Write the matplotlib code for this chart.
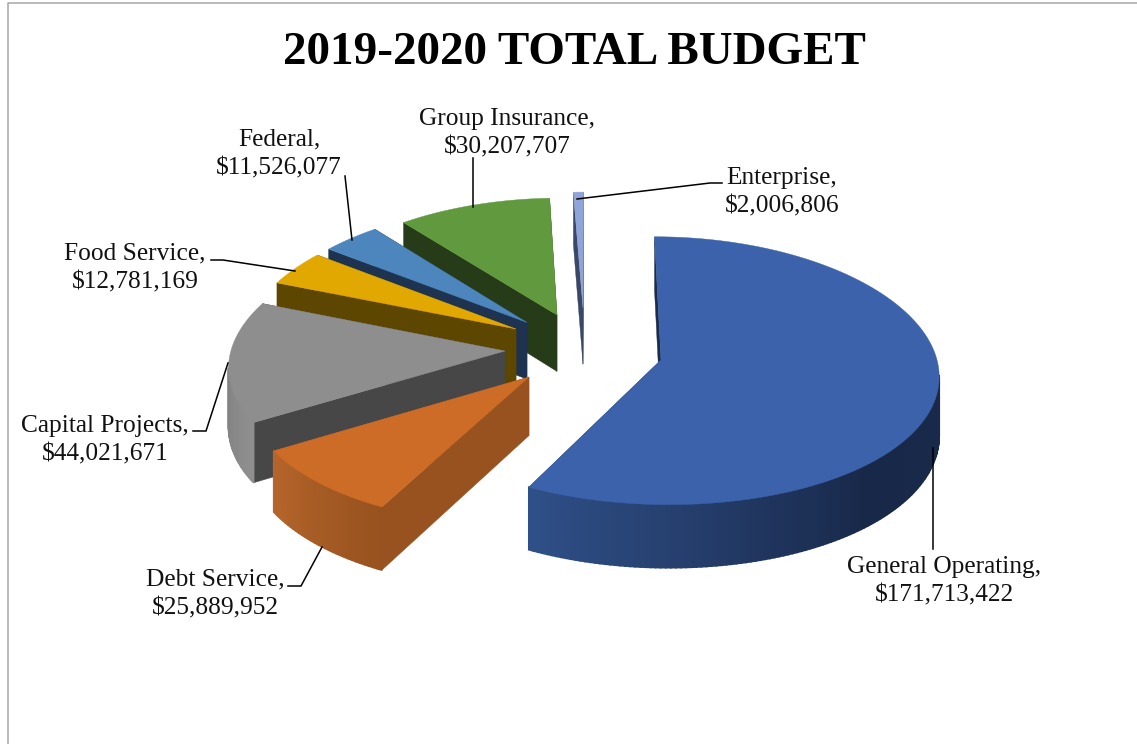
import numpy as np
import matplotlib
matplotlib.use('Agg')
import matplotlib.pyplot as plt
from matplotlib.colors import LinearSegmentedColormap

# budget data, clockwise from 12 o'clock
names = ['General Operating', 'Debt Service', 'Capital Projects', 'Food Service',
         'Federal', 'Group Insurance', 'Enterprise']
values = [171713422, 25889952, 44021671, 12781169, 11526077, 30207707, 2006806]

# styles per slice
top_colors = ['#3b62aa', '#cc6c27', '#8e8e8e', '#e0a800', '#4d86bc', '#619a3e', '#8fa4d8']
wall_colors = ['#1a2b4b', '#97521f', '#474747', '#5c4600', '#1d334f', '#263b18', '#3b4766']
rim_ramps = [['#1a2b4b', '#1a2b4b', '#182848', '#2f4f88'],
             ['#97521f', '#b5652a'],
             ['#8f8f8f', '#747474'],
             ['#5c4600', '#8a6a00'],
             ['#1d334f', '#2a4a70'],
             ['#263b18', '#3a5a24'],
             ['#3b4766', '#3b4766']]
# where each exploded slice has its tip, in pixels
tips_x = [661, 529, 505, 516, 527, 557, 583]
tips_y = [360, 377, 351, 329, 322.5, 315, 308]
draw_order = [6, 5, 4, 3, 2, 1, 0]

# labels
label_x = [944, 215, 105, 135, 279, 507, 782]
label_y = [581, 594, 440, 268, 154, 133, 192]
leaders = [[(933, 448), (933, 549)],
           [(322, 547), (301, 586), (288, 586)],
           [(228, 363), (206, 431), (193, 431)],
           [(295, 271), (223, 260), (211, 260)],
           [(352, 240), (345, 176)],
           [(473, 207), (473, 158)],
           [(577, 199), (710, 183), (722, 183)]]

# camera
XC, YC = 590, 360
RADIUS = 279
RADIUS_X = 276
TILT = 0.477
PERSP_X = 0.10
PERSP_Y = 0.08
DEPTH = 58


def project(x, y, h=0):
    wx = 1 + PERSP_X * y / RADIUS
    wy = 1 + PERSP_Y * y / RADIUS
    return XC + x / wx, YC - TILT * y / wy + h / wy


def unproject(sx, sy):
    q = (YC - sy) / TILT
    y = q / (1 - PERSP_Y * q / RADIUS)
    return (sx - XC) * (1 + PERSP_X * y / RADIUS), y


fig = plt.figure(figsize=(11.37, 7.44), dpi=100)
ax = fig.add_axes([0, 0, 1, 1])
ax.set_xlim(0, 1137)
ax.set_ylim(744, 0)
ax.axis('off')

ax.plot([8, 8, 1137], [744, 3, 3], color='#a6a6a6', lw=1.1, zorder=1)

edges = np.concatenate([[0], np.cumsum(values)]) / np.sum(values) * 2 * np.pi

z = 2
for i in draw_order:
    tx, ty = unproject(tips_x[i], tips_y[i])
    n = max(int((edges[i + 1] - edges[i]) * 60), 2)
    theta = np.linspace(edges[i], edges[i + 1], n + 1)
    rx = tx + RADIUS_X * np.sin(theta)
    ry = ty + RADIUS * np.cos(theta)
    top_x, top_y = project(rx, ry)
    bot_x, bot_y = project(rx, ry, DEPTH)
    tip_tx, tip_ty = project(tx, ty)
    tip_bx, tip_by = project(tx, ty, DEPTH)

    # the two straight walls
    for k in (-1, 0):
        ax.fill([top_x[k], tip_tx, tip_bx, bot_x[k]], [top_y[k], tip_ty, tip_by, bot_y[k]],
                color=wall_colors[i], lw=0.3, zorder=z)
    z += 1

    # curved wall, a strip of small quads for the shading, front facing part only
    ramp = LinearSegmentedColormap.from_list('rim', rim_ramps[i])
    facing = -rx * np.sin(theta) + (-RADIUS / PERSP_X - ry) * np.cos(theta) > 0
    for j in range(n):
        if facing[j] or facing[j + 1]:
            ax.fill([top_x[j], top_x[j + 1], bot_x[j + 1], bot_x[j]],
                    [top_y[j], top_y[j + 1], bot_y[j + 1], bot_y[j]],
                    color=ramp(j / max(n - 1, 1)), lw=1.2, zorder=z)
    z += 1

    ax.fill(np.r_[tip_tx, top_x], np.r_[tip_ty, top_y], color=top_colors[i], lw=0.3, zorder=z)
    z += 1

for line in leaders:
    xs, ys = zip(*line)
    ax.plot(xs, ys, color='black', lw=1.1, zorder=z, solid_joinstyle='miter')

serif = ['Liberation Serif', 'DejaVu Serif']
for name, value, lx, ly in zip(names, values, label_x, label_y):
    ax.text(lx, ly, f'{name},\n${value:,}', ha='center', va='center', family=serif,
            fontsize=18.3, linespacing=1.38, color='#111111', parse_math=False, zorder=z + 1)

ax.text(574, 53, '2019-2020 TOTAL BUDGET', ha='center', va='center', family=serif,
        fontsize=33.9, fontweight='bold', color='black', zorder=z + 1)

fig.savefig('out.png', dpi=100, facecolor='white')
